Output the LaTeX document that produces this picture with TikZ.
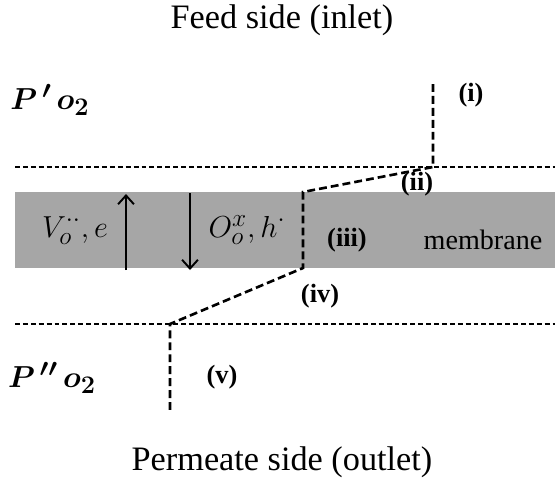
\documentclass[tikz,border=0pt]{standalone}
\usepackage{amsmath,amssymb,bm}
\usepackage{fontspec}
\setmainfont{Liberation Serif}
\usetikzlibrary{positioning,arrows.meta}
\definecolor{membgray}{RGB}{166,166,166}

\begin{document}
\begin{tikzpicture}[x=0.02cm,y=-0.02cm,>={Straight Barb[length=5pt,width=9pt]},
  level/.style={line width=0.8pt, dash pattern=on 2.8pt off 1.7pt},
  profile/.style={line width=1.5pt, dash pattern=on 4.5pt off 2.3pt},
  stage/.style={font=\fontsize{15}{17}\selectfont\bfseries},
  side/.style={font=\fontsize{19.5}{22}\selectfont},
  carrier/.style={font=\fontsize{19}{22}\selectfont}]
\useasboundingbox (0,0) rectangle (555,485);
% membrane layer
\fill[membgray] (15,192) rectangle (555,268);
% pressure levels
\draw[level] (15,167) -- (555,167);
\draw[level] (15,324) -- (555,324);
% potential profile
\coordinate (p0) at (433,84);
\coordinate (p1) at (433,167);
\coordinate (p2) at (303,192);
\coordinate (p3) at (303,268);
\coordinate (p4) at (170,324);
\coordinate (p5) at (170,410);
\draw[profile] (p0) -- (p1) -- (p2) -- (p3) -- (p4) -- (p5);
% labels
\node[side] (feed) at (282,20) {Feed side (inlet)};
\node[side] (perm) at (282,462) {Permeate side (outlet)};
\node[carrier] (pfeed) at (50,100) {$\bm{P^{\,\prime}\,o_2}$};
\node[carrier] (pperm) at (52,378) {$\bm{P^{\,\prime\prime}\,o_2}$};
\foreach \lab/\x/\y in {i/471/95, ii/417/184, iii/347/240, iv/320/296, v/222/377}
  \node[stage] (s-\lab) at (\x,\y) {(\lab)};
\node[font=\fontsize{16}{18}\selectfont] (memb) at (483,240) {membrane};
\node[carrier] (vac) at (75,230) {$V_o^{\cdot\cdot},e$};
\node[carrier] (oxy) at (247,230) {$O_o^x,h^{\cdot}$};
% carrier fluxes
\coordinate (ua) at (126,270);
\coordinate (ub) at (126,194);
\coordinate (da) at (190,193);
\coordinate (db) at (190,270);
\draw[->, line width=1.1pt] (ua) -- (ub);
\draw[->, line width=1.1pt] (da) -- (db);
\end{tikzpicture}
\end{document}
